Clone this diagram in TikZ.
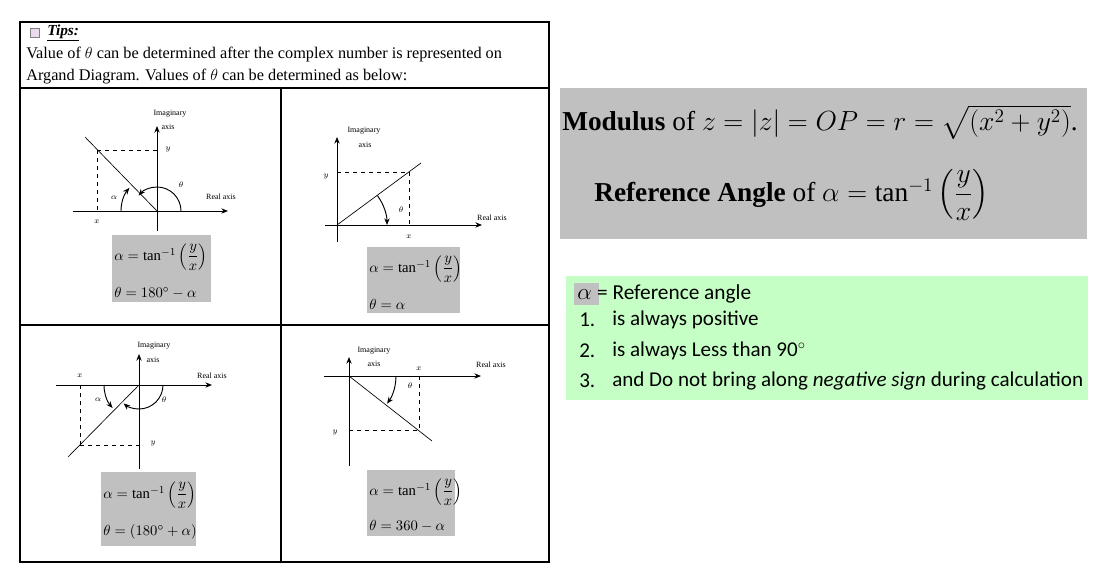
\documentclass[tikz,border=0pt]{standalone}
\usepackage{amsmath}
\usepackage{fontspec}
\setmainfont{Liberation Serif}
\newfontfamily\calib{Carlito}
\usetikzlibrary{arrows.meta}
\definecolor{boxgray}{HTML}{C0C0C0}
\definecolor{lgreen}{HTML}{C6FFC6}
\tikzset{
 ax/.style={line width=0.7pt,-{Stealth[length=5pt,width=4pt]}},
 ray/.style={line width=0.5pt},
 dsh/.style={dashed,line width=0.5pt},
 arcarr/.style={line width=0.7pt,-{Stealth[length=5pt,width=4pt]}},
 lbl/.style={font=\fontsize{6}{7}\selectfont,inner sep=0pt},
 gbox/.style={fill=boxgray,draw=none},
 frm/.style={font=\fontsize{11}{13}\selectfont,inner sep=0pt,anchor=west},
 hdr/.style={anchor=west,font=\fontsize{12.2}{14}\selectfont,inner sep=0pt},
}
\begin{document}
\begin{tikzpicture}[x=0.75pt,y=-0.75pt]
\useasboundingbox (0,0) rectangle (1108,571);
% outer frame
\draw[line width=1.2pt] (20,22) rectangle (549,562);
\draw[line width=0.8pt] (20,88) -- (549,88);
\draw[line width=0.8pt] (281,88) -- (281,562);
\draw[line width=0.8pt] (20,325) -- (549,325);
% header
\node[draw=gray,fill=violet!15,minimum size=7pt,inner sep=0pt] (icon) at (35,33) {};
\node[anchor=west,font=\fontsize{11.5}{13}\selectfont\bfseries\itshape,inner sep=0pt] (tips) at (47,33) {\underline{Tips:}};
\node[hdr] (l1) at (26,55) {Value of $\theta$ can be determined after the complex number is represented on};
\node[hdr] (l2) at (26,77) {Argand Diagram. Values of $\theta$ can be determined as below:};

% ---------- Panel 1 ----------
\coordinate (o1) at (157,211);
\coordinate (p1) at (97,150);
\draw[ax] (73,211) -- (228,211);
\draw[ax] (157,231) -- (157,126);
\draw[ray] (85,137) -- (o1);
\draw[dsh] (p1) -- (157,150);
\draw[dsh] (p1) -- (97,211);
\draw[arcarr] (o1) ++(24,0) arc[start angle=0,end angle=-140,radius=24];
\draw[arcarr] (o1) ++(-36,0) arc[start angle=-180,end angle=-140,radius=36];
\node[lbl] (im1) at (170,114) {Imaginary};
\node[lbl] (ax1) at (168,127) {axis};
\node[lbl] (re1) at (221,197) {Real axis};
\node[lbl] (y1) at (168,150) {$y$};
\node[lbl] (x1) at (97,222) {$x$};
\node[lbl] (a1) at (114,198) {$\alpha$};
\node[lbl] (t1) at (181,185) {$\theta$};
\fill[gbox] (112,235) rectangle (211,302);
\node[frm] (f1a) at (114,257) {$\alpha=\mathrm{tan}^{-1}\left(\dfrac{y}{x}\right)$};
\node[frm] (f1b) at (114,293) {$\theta=180^\circ-\alpha$};

% ---------- Panel 2 ----------
\coordinate (o2) at (337,225);
\coordinate (p2) at (409,172);
\draw[ax] (325,225) -- (482,225);
\draw[ax] (337,242) -- (337,137);
\draw[ray] (o2) -- (421,163);
\draw[dsh] (337,172) -- (p2);
\draw[dsh] (p2) -- (409,225);
\draw[arcarr] (o2) ++(-36:50) arc[start angle=-36,end angle=0,radius=50];
\node[lbl] (im2) at (364,131) {Imaginary};
\node[lbl] (ax2) at (365,145) {axis};
\node[lbl] (re2) at (492,218) {Real axis};
\node[lbl] (y2) at (326,177) {$y$};
\node[lbl] (x2) at (409,237) {$x$};
\node[lbl] (t2) at (401,210) {$\theta$};
\fill[gbox] (367,247) rectangle (460,313);
\node[frm] (f2a) at (369,269) {$\alpha=\mathrm{tan}^{-1}\left(\dfrac{y}{x}\right)$};
\node[frm] (f2b) at (369,304) {$\theta=\alpha$};

% ---------- Panel 3 ----------
\coordinate (o3) at (139,385);
\coordinate (p3) at (80,445);
\draw[ax] (56,385) -- (212,385);
\draw[ax] (139,469) -- (139,354);
\draw[ray] (68,457) -- (o3);
\draw[dsh] (80,385) -- (p3);
\draw[dsh] (p3) -- (139,445);
\draw[arcarr] (o3) ++(24,0) arc[start angle=0,end angle=130,radius=24];
\draw[arcarr] (o3) ++(-35,0) arc[start angle=180,end angle=139,radius=35];
\node[lbl] (im3) at (154,346) {Imaginary};
\node[lbl] (ax3) at (153,360) {axis};
\node[lbl] (re3) at (212,376) {Real axis};
\node[lbl] (x3) at (80,376) {$x$};
\node[lbl] (y3) at (153,444) {$y$};
\node[lbl] (a3) at (98,400) {$\alpha$};
\node[lbl] (t3) at (164,400) {$\theta$};
\fill[gbox] (101,472) rectangle (196,546);
\node[frm] (f3a) at (103,495) {$\alpha=\mathrm{tan}^{-1}\left(\dfrac{y}{x}\right)$};
\node[frm] (f3b) at (103,532) {$\theta=\left(180^\circ+\alpha\right)$};

% ---------- Panel 4 ----------
\coordinate (o4) at (349,376);
\coordinate (p4) at (419,430);
\draw[ax] (324,376) -- (481,376);
\draw[ax] (349,466) -- (349,357);
\draw[ray] (o4) -- (432,441);
\draw[dsh] (419,376) -- (p4);
\draw[dsh] (349,430) -- (p4);
\draw[arcarr] (o4) ++(47,0) arc[start angle=0,end angle=36,radius=47];
\node[lbl] (im4) at (374,351) {Imaginary};
\node[lbl] (ax4) at (374,364) {axis};
\node[lbl] (re4) at (491,365) {Real axis};
\node[lbl] (x4) at (419,369) {$x$};
\node[lbl] (y4) at (335,433) {$y$};
\node[lbl] (t4) at (410,386) {$\theta$};
\fill[gbox] (367,470) rectangle (455,536);
\node[frm] (f4a) at (369,492) {$\alpha=\mathrm{tan}^{-1}\left(\dfrac{y}{x}\right)$};
\node[frm] (f4b) at (369,526) {$\theta=360-\alpha$};

% ---------- Right top ----------
\fill[gbox] (560,88) rectangle (1087,239);
\node[anchor=west,inner sep=0pt,font=\fontsize{20.5}{24}\selectfont] (mod) at (562,122)
 {\textbf{Modulus} of $z=\left|z\right|=OP=r=\sqrt{\left(x^2+y^2\right)}$.};
\node[anchor=west,inner sep=0pt,font=\fontsize{20.5}{24}\selectfont] (ref) at (594,195)
 {\textbf{Reference Angle} of $\alpha=\tan^{-1}\left(\dfrac{y}{x}\right)$};

% ---------- Green box ----------
\fill[lgreen] (566,276) rectangle (1088,400);
\fill[boxgray] (574,283) rectangle (599,305);
\node[anchor=west,inner sep=0pt,font=\fontsize{16}{18}\selectfont] (alab) at (577,294)
 {$\alpha$ {\calib = Reference angle}};
\tikzset{gl/.style={anchor=west,inner sep=0pt,font=\calib\fontsize{15.8}{18}\selectfont}}
\node[gl] (n1) at (579,320) {1.};
\node[gl] (g1) at (612,320) {is always positive};
\node[gl] (n2) at (579,351) {2.};
\node[gl] (g2) at (612,351) {is always Less than 90$^{\circ}$};
\node[gl] (n3) at (579,381) {3.};
\node[gl] (g3) at (612,381) {and Do not bring along \textit{negative sign} during calculation};
\end{tikzpicture}
\end{document}
